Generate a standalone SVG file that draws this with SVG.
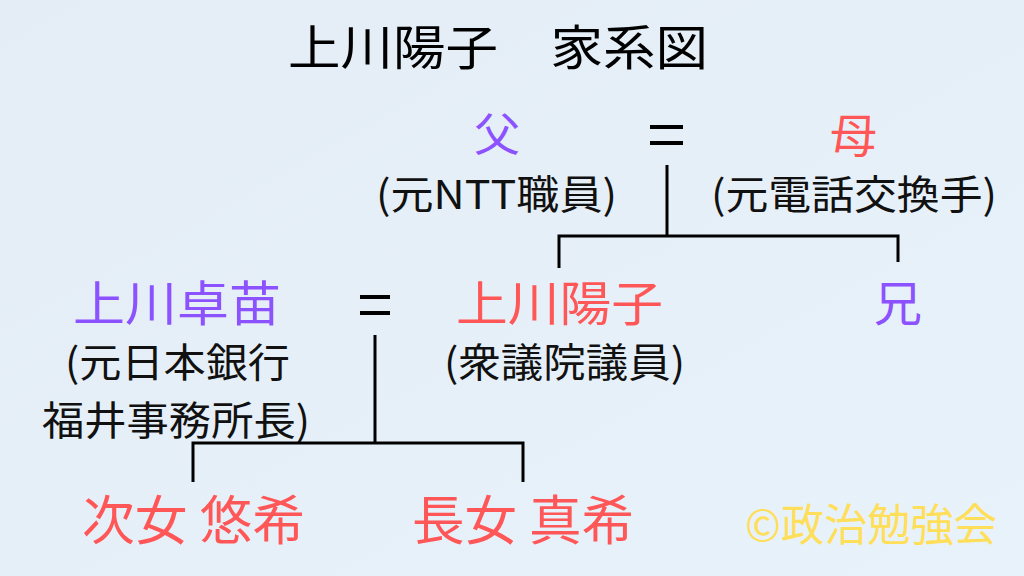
<svg xmlns="http://www.w3.org/2000/svg" width="1024" height="576" viewBox="0 0 1024 576">
<defs>
<linearGradient id="bg" x1="0" y1="0" x2="1" y2="1">
<stop offset="0" stop-color="#E4EDF5"/>
<stop offset="1" stop-color="#E8F2FA"/>
</linearGradient>
<style>
text{font-family:"Noto Sans CJK JP","Noto Sans CJK SC",sans-serif;}
.t{fill:#000;font-size:48px;}
.p{fill:#8C52FF;}
.r{fill:#FF5757;}
.k{fill:#111;}
.y{fill:#FFDE59;}
.eq{stroke:#000;stroke-width:4;}
.ln{fill:none;stroke:#000;stroke-width:3;}
</style>
</defs>
<rect width="1024" height="576" fill="url(#bg)"/>
<g id="title"><text class="t" x="288" y="65" textLength="420" lengthAdjust="spacingAndGlyphs">上川陽子　家系図</text></g>
<g id="father"><text class="p" x="474" y="151" font-size="46" textLength="46" lengthAdjust="spacingAndGlyphs">父</text>
<text class="k" x="376" y="209" font-size="40" textLength="241" lengthAdjust="spacingAndGlyphs">(元NTT職員)</text></g>
<g id="mother"><text class="r" x="830" y="152" font-size="46" textLength="47" lengthAdjust="spacingAndGlyphs">母</text>
<text class="k" x="711" y="209" font-size="40" textLength="286" lengthAdjust="spacingAndGlyphs">(元電話交換手)</text></g>
<g id="takanae"><text class="p" x="73" y="321" font-size="48" textLength="208" lengthAdjust="spacingAndGlyphs">上川卓苗</text>
<text class="k" x="65" y="377" font-size="40" textLength="225" lengthAdjust="spacingAndGlyphs">(元日本銀行</text>
<text class="k" x="42" y="435" font-size="40" textLength="268" lengthAdjust="spacingAndGlyphs">福井事務所長)</text></g>
<g id="yoko"><text class="r" x="456" y="321" font-size="48" textLength="207" lengthAdjust="spacingAndGlyphs">上川陽子</text>
<text class="k" x="444" y="377" font-size="40" textLength="241" lengthAdjust="spacingAndGlyphs">(衆議院議員)</text></g>
<g id="brother"><text class="p" x="874" y="321" font-size="48" textLength="48" lengthAdjust="spacingAndGlyphs">兄</text></g>
<g id="daughter2"><text class="r" x="82" y="540" font-size="53" textLength="223" lengthAdjust="spacingAndGlyphs">次女 悠希</text></g>
<g id="daughter1"><text class="r" x="412" y="540" font-size="53" textLength="222" lengthAdjust="spacingAndGlyphs">長女 真希</text></g>
<g id="credit"><text class="y" x="745" y="541" font-size="44" textLength="252" lengthAdjust="spacingAndGlyphs">©政治勉強会</text></g>
<g id="connectors">
<path class="eq" d="M650 127H683M650 143H683M360 297H390M360 313H390"/>
<path class="ln" d="M667 165V236M559 268V236H898V262M375 335V443M193 482V443H523V482"/>
</g>
</svg>
